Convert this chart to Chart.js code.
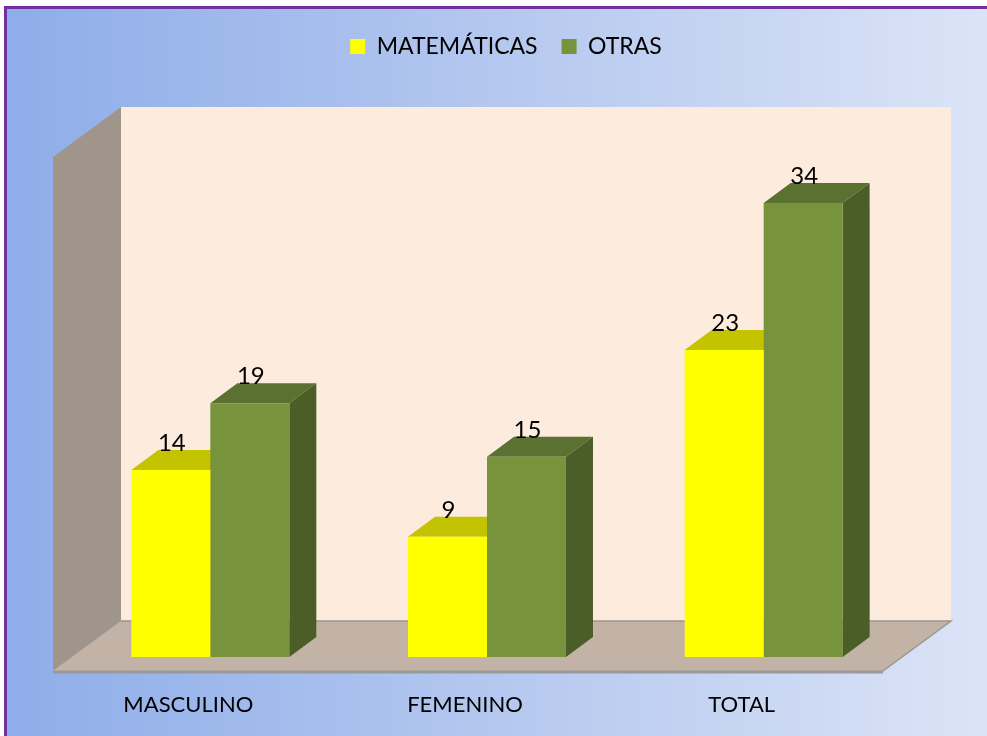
<!DOCTYPE html>
<html>
<head>
<meta charset="utf-8">
<script src="https://cdn.jsdelivr.net/npm/chart.js@4.4.0/dist/chart.umd.min.js"></script>
<style>
  html, body { margin: 0; padding: 0; background: #fff; }
  #frame {
    position: absolute; left: 4px; top: 6px; width: 1000px; height: 760px;
    border: 3px solid #7030A0;
    background: linear-gradient(to right, #8EADE9 0%, #B5C8EF 50%, #DDE5F7 100%);
  }
  #wrap { position: absolute; left: 0; top: 0; width: 987px; height: 736px; }
</style>
</head>
<body>
<div id="frame"></div>
<div id="wrap"><canvas id="chart" width="987" height="736"></canvas></div>
<script>
document.addEventListener("DOMContentLoaded", function() {
    const categories = ['MASCULINO', 'FEMENINO', 'TOTAL'];
    const matematicas = [14, 9, 23];
    const otras = [19, 15, 34];

    // depth of the fake 3d (px)
    const DX = 27, DY = 20;   // bar depth
    const WX = 49, WY = 36;   // bar plane -> back wall
    const FX = 19, FY = 14;   // bar plane -> front edge of floor

    function poly(ctx, pts, fill) {
        ctx.beginPath();
        ctx.moveTo(pts[0][0], pts[0][1]);
        for (let i = 1; i < pts.length; i++) ctx.lineTo(pts[i][0], pts[i][1]);
        ctx.closePath();
        ctx.fillStyle = fill;
        ctx.fill();
    }

    const topColors = ['#C4C300', '#5B7131'];
    const sideColors = ['#A9A800', '#4B5E27'];

    const box3d = {
        id: 'box3d',
        beforeDatasetsDraw(chart) {
            const ctx = chart.ctx;
            const { left: L, right: R, top: T, bottom: B } = chart.chartArea;
            ctx.save();
            // back wall
            ctx.fillStyle = '#FDEBDD';
            ctx.fillRect(L + WX, T - WY, R - L, B - T);
            // left wall
            poly(ctx, [[L + WX, T - WY], [L + WX, B - WY], [L - FX, B + FY], [L - FX, T + FY]], '#A0958B');
            // floor
            poly(ctx, [[L + WX, B - WY], [R + WX, B - WY], [R - FX, B + FY], [L - FX, B + FY]], '#C3B3A7');
            ctx.strokeStyle = '#9A9590';
            ctx.lineWidth = 1.5;
            ctx.beginPath();
            ctx.moveTo(L + WX, B - WY); ctx.lineTo(R + WX, B - WY); ctx.lineTo(R - FX, B + FY);
            ctx.stroke();
            ctx.lineWidth = 3;
            ctx.strokeStyle = '#999999';
            ctx.beginPath();
            ctx.moveTo(L - FX, B + FY + 1); ctx.lineTo(R - FX, B + FY + 1);
            ctx.stroke();

            // tops and sides of bars
            chart.data.datasets.forEach((ds, i) => {
                chart.getDatasetMeta(i).data.forEach(bar => {
                    const l = bar.x - bar.width / 2, r = bar.x + bar.width / 2;
                    poly(ctx, [[l, bar.y], [r, bar.y], [r + DX, bar.y - DY], [l + DX, bar.y - DY]], topColors[i]);
                    poly(ctx, [[r, bar.y], [r + DX, bar.y - DY], [r + DX, bar.base - DY], [r, bar.base]], sideColors[i]);
                });
            });
            ctx.restore();
        },
        afterDatasetsDraw(chart) {
            const ctx = chart.ctx;
            ctx.save();
            ctx.font = '24px Lato';
            ctx.fillStyle = '#000';
            ctx.textAlign = 'center';
            ctx.textBaseline = 'alphabetic';
            chart.data.datasets.forEach((ds, i) => {
                chart.getDatasetMeta(i).data.forEach((bar, j) => {
                    ctx.fillText(String(ds.data[j]), bar.x + 1, bar.y - DY + 1);
                });
            });
            ctx.restore();
        }
    };

    new Chart(document.getElementById('chart'), {
        type: 'bar',
        data: {
            labels: categories,
            datasets: [
                { label: 'MATEMÁTICAS', data: matematicas, backgroundColor: '#FFFF00' },
                { label: 'OTRAS', data: otras, backgroundColor: '#77933C' }
            ]
        },
        options: {
            responsive: false,
            animation: false,
            layout: { padding: { left: 72, right: 47, top: 11, bottom: 0 } },
            datasets: { bar: { barPercentage: 1, categoryPercentage: 0.571 } },
            plugins: {
                legend: {
                    position: 'top',
                    labels: { font: { family: 'Lato', size: 23 }, color: '#000', boxWidth: 15, boxHeight: 15, padding: 24 }
                },
                tooltip: { enabled: false }
            },
            scales: {
                y: { display: false, min: 0, max: 38.5 },
                x: {
                    grid: { display: false, drawTicks: false },
                    border: { display: false },
                    ticks: { font: { family: 'Lato', size: 22 }, color: '#000', padding: 35, labelOffset: -22 },
                    afterFit(scale) { scale.height = 79; }
                },
                // empty axes, they only keep room around the walls
                spacer: {
                    type: 'category',
                    position: 'top',
                    grid: { display: false, drawTicks: false },
                    border: { display: false },
                    ticks: { display: false },
                    afterFit(scale) { scale.height = 75; }
                },
                spacerRight: {
                    type: 'linear',
                    position: 'right',
                    grid: { display: false, drawTicks: false },
                    border: { display: false },
                    ticks: { display: false },
                    afterFit(scale) { scale.width = 38; }
                }
            }
        },
        plugins: [box3d]
    });
});
</script>
</body>
</html>
